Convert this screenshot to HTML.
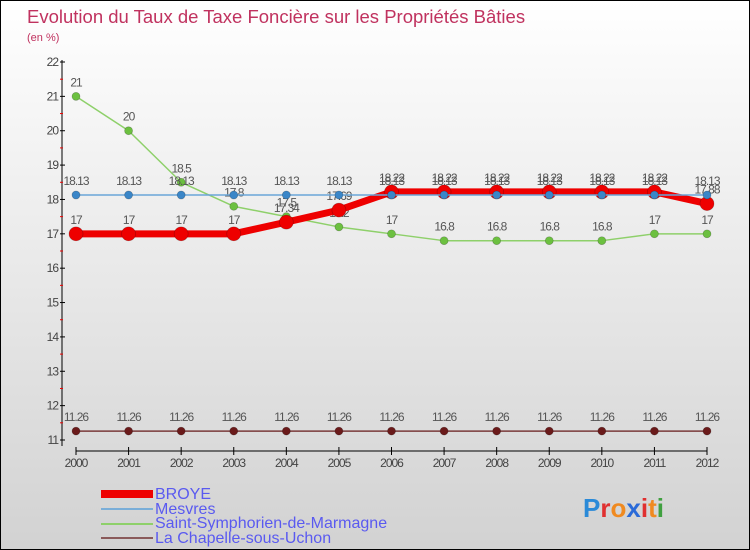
<!DOCTYPE html>
<html><head><meta charset="utf-8"><style>
body{margin:0}
#wrap{position:relative;width:748px;height:548px;border:1px solid #000;background:linear-gradient(#ffffff,#d2d2d2);font-family:"Liberation Sans",sans-serif;overflow:hidden}
svg{position:absolute;left:0;top:0}
</style></head><body>
<div id="wrap">
<svg id="chart" width="748" height="548">
<text x="26" y="22" font-size="18.5" fill="#c0325f">Evolution du Taux de Taxe Foncière sur les Propriétés Bâties</text>
<text x="26" y="40" font-size="11" fill="#c0325f">(en %)</text>
<g id="axes"></g><g id="series"></g>
<g>
<rect x="100" y="489" width="52" height="8" fill="#e00"/>
<text x="154" y="498" font-size="16" fill="#5a5af0">BROYE</text>
<line x1="100" y1="508" x2="152" y2="508" stroke="#7aaed8" stroke-width="2"/>
<text x="154" y="513" font-size="16" fill="#5a5af0">Mesvres</text>
<line x1="100" y1="523" x2="152" y2="523" stroke="#8ed06a" stroke-width="2"/>
<text x="154" y="527" font-size="16" fill="#5a5af0">Saint-Symphorien-de-Marmagne</text>
<line x1="100" y1="537" x2="152" y2="537" stroke="#8a5a5a" stroke-width="2"/>
<text x="154" y="542" font-size="16" fill="#5a5af0">La Chapelle-sous-Uchon</text>
</g>
<text x="582" y="516" font-size="26" font-weight="bold"><tspan fill="#2a8ad8">P</tspan><tspan fill="#e03030">r</tspan><tspan fill="#f08a20">o</tspan><tspan fill="#2a6ad8">x</tspan><tspan fill="#e03030">i</tspan><tspan fill="#f08a20">t</tspan><tspan fill="#40a040">i</tspan></text>
</svg></div>
<script>
const years=[2000,2001,2002,2003,2004,2005,2006,2007,2008,2009,2010,2011,2012];
const broye=[17,17,17,17,17.34,17.69,18.22,18.22,18.22,18.22,18.22,18.22,17.88];
const mesvres=[18.13,18.13,18.13,18.13,18.13,18.13,18.13,18.13,18.13,18.13,18.13,18.13,18.13];
const saint=[21,20,18.5,17.8,17.5,17.2,17,16.8,16.8,16.8,16.8,17,17];
const chapelle=[11.26,11.26,11.26,11.26,11.26,11.26,11.26,11.26,11.26,11.26,11.26,11.26,11.26];
const yTicks=[11,12,13,14,15,16,17,18,19,20,21,22];
const NS="http://www.w3.org/2000/svg";
const x=i=>75+i*(631/12);
const y=v=>439-(v-11)*(378/11);
function mk(t,a,p){const e=document.createElementNS(NS,t);for(const k in a)e.setAttribute(k,a[k]);p.appendChild(e);return e;}
const ax=document.getElementById('axes');
let e=mk('line',{x1:61,y1:59,x2:61,y2:445,stroke:'#000'},ax);


e=mk('line',{x1:75,y1:450,x2:706,y2:450,stroke:'#000'},ax);


yTicks.forEach(v=>{
 mk('line',{x1:59,y1:y(v),x2:64,y2:y(v),stroke:'#000'},ax);
 if(v<22)mk('line',{x1:59,y1:y(v+0.5),x2:62,y2:y(v+0.5),stroke:'#e00'},ax);
 const t=mk('text',{x:57,y:y(v)+4,'font-size':12,fill:'#444','text-anchor':'end','letter-spacing':'-1'},ax);
 t.textContent=v;
 
 
});
years.forEach((yr,i)=>{
 mk('line',{x1:x(i),y1:446,x2:x(i),y2:454,stroke:'#000'},ax);
 const t=mk('text',{x:x(i),y:466,'font-size':12,fill:'#444','text-anchor':'middle','letter-spacing':'-1'},ax);
 t.textContent=yr;
 
 
});
const sg=document.getElementById('series');
function draw(vals,name,col,w,r,dot){
 const g=mk('g',{},sg);
 
 
 const p=mk('polyline',{points:vals.map((v,i)=>x(i)+','+y(v)).join(' '),fill:'none',stroke:col,'stroke-width':w,'stroke-linejoin':'round'},g);
 
 
 vals.forEach((v,i)=>{
  const c=mk('circle',{cx:x(i),cy:y(v),r:r,fill:dot,stroke:'rgba(0,0,0,0.25)','stroke-width':0.7},g);
  
  
  const t=mk('text',{x:x(i),y:y(v)-10,'font-size':12,fill:'#555','text-anchor':'middle','letter-spacing':'-1'},g);
  t.textContent=v;
  
  
 });
}
draw(chapelle,'la-chapelle','#7a3a3a',1.5,4,'#6a1a1a');
draw(saint,'saint-symphorien','#8ed06a',1.5,4,'#6cc040');
draw(broye,'broye','#ee0000',7,7,'#ee0000');
draw(mesvres,'mesvres','#6aa6d8',1.5,4,'#3a86c8');
</script>
</body></html>
